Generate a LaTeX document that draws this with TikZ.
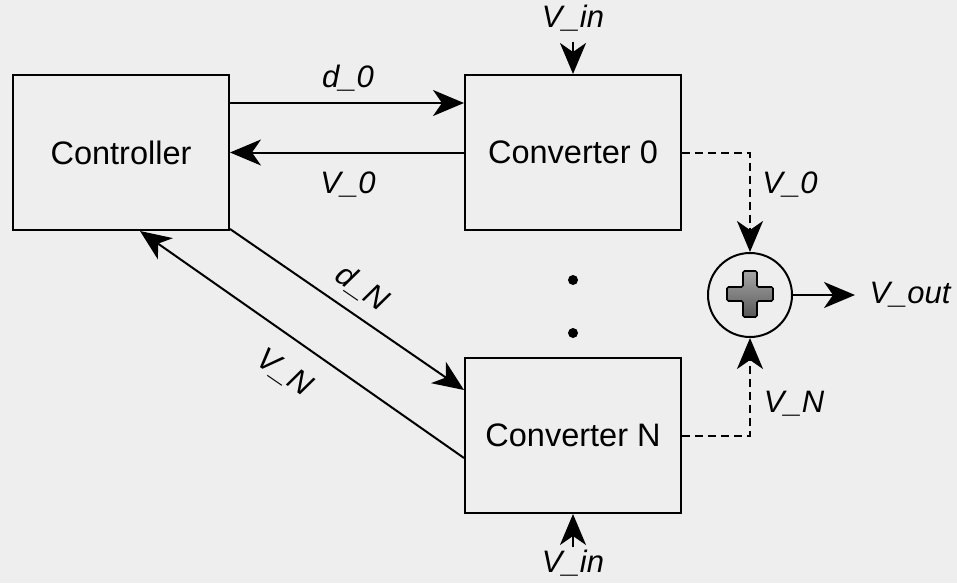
\documentclass[tikz,border=0pt]{standalone}
\usepackage{fontspec}
\setmainfont{Liberation Sans}
\usetikzlibrary{arrows.meta,calc}
\definecolor{bg}{RGB}{238,238,238}
\begin{document}
\begin{tikzpicture}[x=1pt,y=-1pt,
  box/.style={draw, line width=2pt, minimum width=216pt, minimum height=155pt, inner sep=0pt, font=\fontsize{32.5}{38}\selectfont},
  lbl/.style={font=\fontsize{31}{36}\selectfont\itshape, inner sep=0pt},
  arr/.style={line width=2pt, -{Stealth[length=31pt,width=26pt,inset=9pt]}},
  darr/.style={arr, dash pattern=on 8pt off 5pt},
]
\fill[bg] (0,0) rectangle (957,583);
\useasboundingbox (0,0) rectangle (957,583);

\node[box] (ctrl) at (121,152.5) {Controller};
\node[box] (c0) at (573,152.5) {Converter 0};
\node[box] (cN) at (573,435.5) {Converter N};
\node[draw, circle, line width=2pt, minimum size=84pt, inner sep=0pt] (sum) at (750,295) {};
\draw[line width=1.6pt, rounded corners=1.5pt, top color=black!35, bottom color=black!65]
  (743,271) -- (757,271) -- (757,287) -- (773,287) -- (773,301) -- (757,301)
  -- (757,317) -- (743,317) -- (743,301) -- (727,301) -- (727,287) -- (743,287) -- cycle;

\coordinate (vintop) at (573,42);
\coordinate (vinbot) at (573,547);
\coordinate (vout) at (855,295);

\node[fill=black, circle, inner sep=0pt, minimum size=10pt] (dot1) at (573,280) {};
\node[fill=black, circle, inner sep=0pt, minimum size=10pt] (dot2) at (573,333) {};

\draw[arr] ([yshift=49.5pt]ctrl.east) -- ([yshift=49.5pt]c0.west);
\draw[arr] (c0.west) -- (ctrl.east);
\draw[arr] (vintop) -- (c0.north);
\draw[arr] (vinbot) -- (cN.south);
\draw[darr] (c0.east) -| (sum.north);
\draw[darr] (cN.east) -| (sum.south);
\draw[arr] (sum.east) -- (vout);
\draw[arr] ([yshift=2pt]ctrl.south east) -- ([yshift=45.5pt]cN.west);
\draw[arr] ([yshift=-22.5pt]cN.west) -- ([xshift=19pt]ctrl.south);

\node[lbl] (ld0) at (348,78) {d\_0};
\node[lbl] (lv0) at (348,185) {V\_0};
\node[lbl] (lv0r) at (790,185) {V\_0};
\node[lbl] (lvnr) at (794,404) {V\_N};
\node[lbl] (lvout) at (910,295) {V\_out};
\node[lbl] (lvin1) at (573,18) {V\_in};
\node[lbl] (lvin2) at (573,563) {V\_in};
\node[lbl, rotate=-34.5] (ldn) at (362,288) {d\_N};
\node[lbl, rotate=-34.5] (lvn) at (284,373) {V\_N};
\end{tikzpicture}
\end{document}
